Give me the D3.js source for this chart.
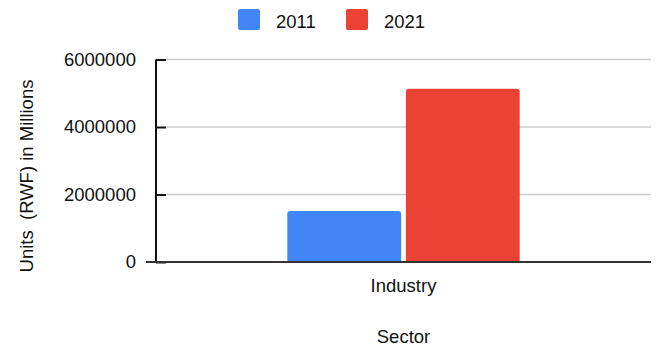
<!DOCTYPE html>
<html>
<head>
<meta charset="utf-8">
<script src="https://cdn.jsdelivr.net/npm/d3@7"></script>
<style>
  body { margin: 0; background: #fff; }
  text { font-family: Arial, "Liberation Sans", sans-serif; fill: #111; }
</style>
</head>
<body>
<div id="chart"></div>
<script>
var categories = ["Industry"];
var seriesNames = ["2011", "2021"];
var values2011 = [1510000];
var values2021 = [5130000];
var yTicks = [0, 2000000, 4000000, 6000000];

var colors = {"2011": "#4285f4", "2021": "#ea4335"};

var width = 658, height = 349;
var margin = {top: 59.5, right: 7, bottom: 87, left: 156};
var plotW = width - margin.left - margin.right,
    plotH = height - margin.top - margin.bottom;
var fontSize = "18.5px";

var svg = d3.select("#chart").append("svg")
    .attr("width", width)
    .attr("height", height);

var g = svg.append("g")
    .attr("transform", "translate(" + margin.left + "," + margin.top + ")");

var x0 = d3.scaleBand().domain(categories).range([0, plotW]).paddingOuter(0.565);
var x1 = d3.scaleBand().domain(seriesNames).range([0, x0.bandwidth()]).paddingInner(0.04);
var y = d3.scaleLinear().domain([0, 6000000]).range([plotH, 0]);

// gridlines
g.selectAll(".grid")
    .data(yTicks.filter(function(d) { return d > 0; }))
    .enter().append("line")
    .attr("x1", 10).attr("x2", plotW)
    .attr("y1", function(d) { return y(d); })
    .attr("y2", function(d) { return y(d); })
    .attr("stroke", "#cccccc")
    .attr("stroke-width", 1.5);

// y axis
var yAxis = d3.axisLeft(y).tickValues(yTicks).tickFormat(d3.format("d")).tickSize(10).tickPadding(10);
var ya = g.append("g").call(yAxis);
ya.select(".domain").remove();
ya.selectAll(".tick line").attr("stroke", "#111").attr("stroke-width", 2).attr("x2", 10);
ya.selectAll(".tick text").style("font-size", fontSize).attr("fill", "#111");
g.append("line")
    .attr("x1", 0).attr("x2", 0)
    .attr("y1", 0).attr("y2", plotH)
    .attr("stroke", "#111").attr("stroke-width", 2);

// bars
var data = categories.map(function(c, i) {
    return {cat: c, parts: [{name: "2011", v: values2011[i]}, {name: "2021", v: values2021[i]}]};
});

function topRounded(xp, yp, w, h, r) {
    return "M" + xp + "," + (yp + h) +
        "V" + (yp + r) + "Q" + xp + "," + yp + " " + (xp + r) + "," + yp +
        "H" + (xp + w - r) + "Q" + (xp + w) + "," + yp + " " + (xp + w) + "," + (yp + r) +
        "V" + (yp + h) + "Z";
}

g.selectAll(".grp")
    .data(data)
    .enter().append("g")
    .attr("transform", function(d) { return "translate(" + x0(d.cat) + ",0)"; })
    .selectAll("path")
    .data(function(d) { return d.parts; })
    .enter().append("path")
    .attr("d", function(d) {
        return topRounded(x1(d.name), y(d.v), x1.bandwidth(), plotH - y(d.v), 3);
    })
    .attr("fill", function(d) { return colors[d.name]; });

// baseline
g.append("line")
    .attr("x1", -10).attr("x2", plotW)
    .attr("y1", plotH).attr("y2", plotH)
    .attr("stroke", "#333").attr("stroke-width", 2);

// x axis labels
g.selectAll(".xlab")
    .data(categories)
    .enter().append("text")
    .attr("x", function(d) { return x0(d) + x0.bandwidth() / 2; })
    .attr("y", plotH + 30)
    .attr("text-anchor", "middle")
    .style("font-size", fontSize)
    .text(function(d) { return d; });

svg.append("text")
    .attr("x", margin.left + plotW / 2)
    .attr("y", 343)
    .attr("text-anchor", "middle")
    .style("font-size", fontSize)
    .text("Sector");

svg.append("text")
    .attr("transform", "translate(33,176) rotate(-90)")
    .attr("text-anchor", "middle")
    .style("font-size", fontSize)
    .style("white-space", "pre")
    .text("Units  (RWF) in Millions");

// legend
var legendX = [238, 346];
var leg = svg.selectAll(".leg")
    .data(seriesNames)
    .enter().append("g")
    .attr("transform", function(d, i) { return "translate(" + legendX[i] + ",9)"; });
leg.append("rect")
    .attr("width", 22).attr("height", 21).attr("rx", 2)
    .attr("fill", function(d) { return colors[d]; });
leg.append("text")
    .attr("x", 38).attr("y", 18.5)
    .style("font-size", fontSize)
    .text(function(d) { return d; });
</script>
</body>
</html>
